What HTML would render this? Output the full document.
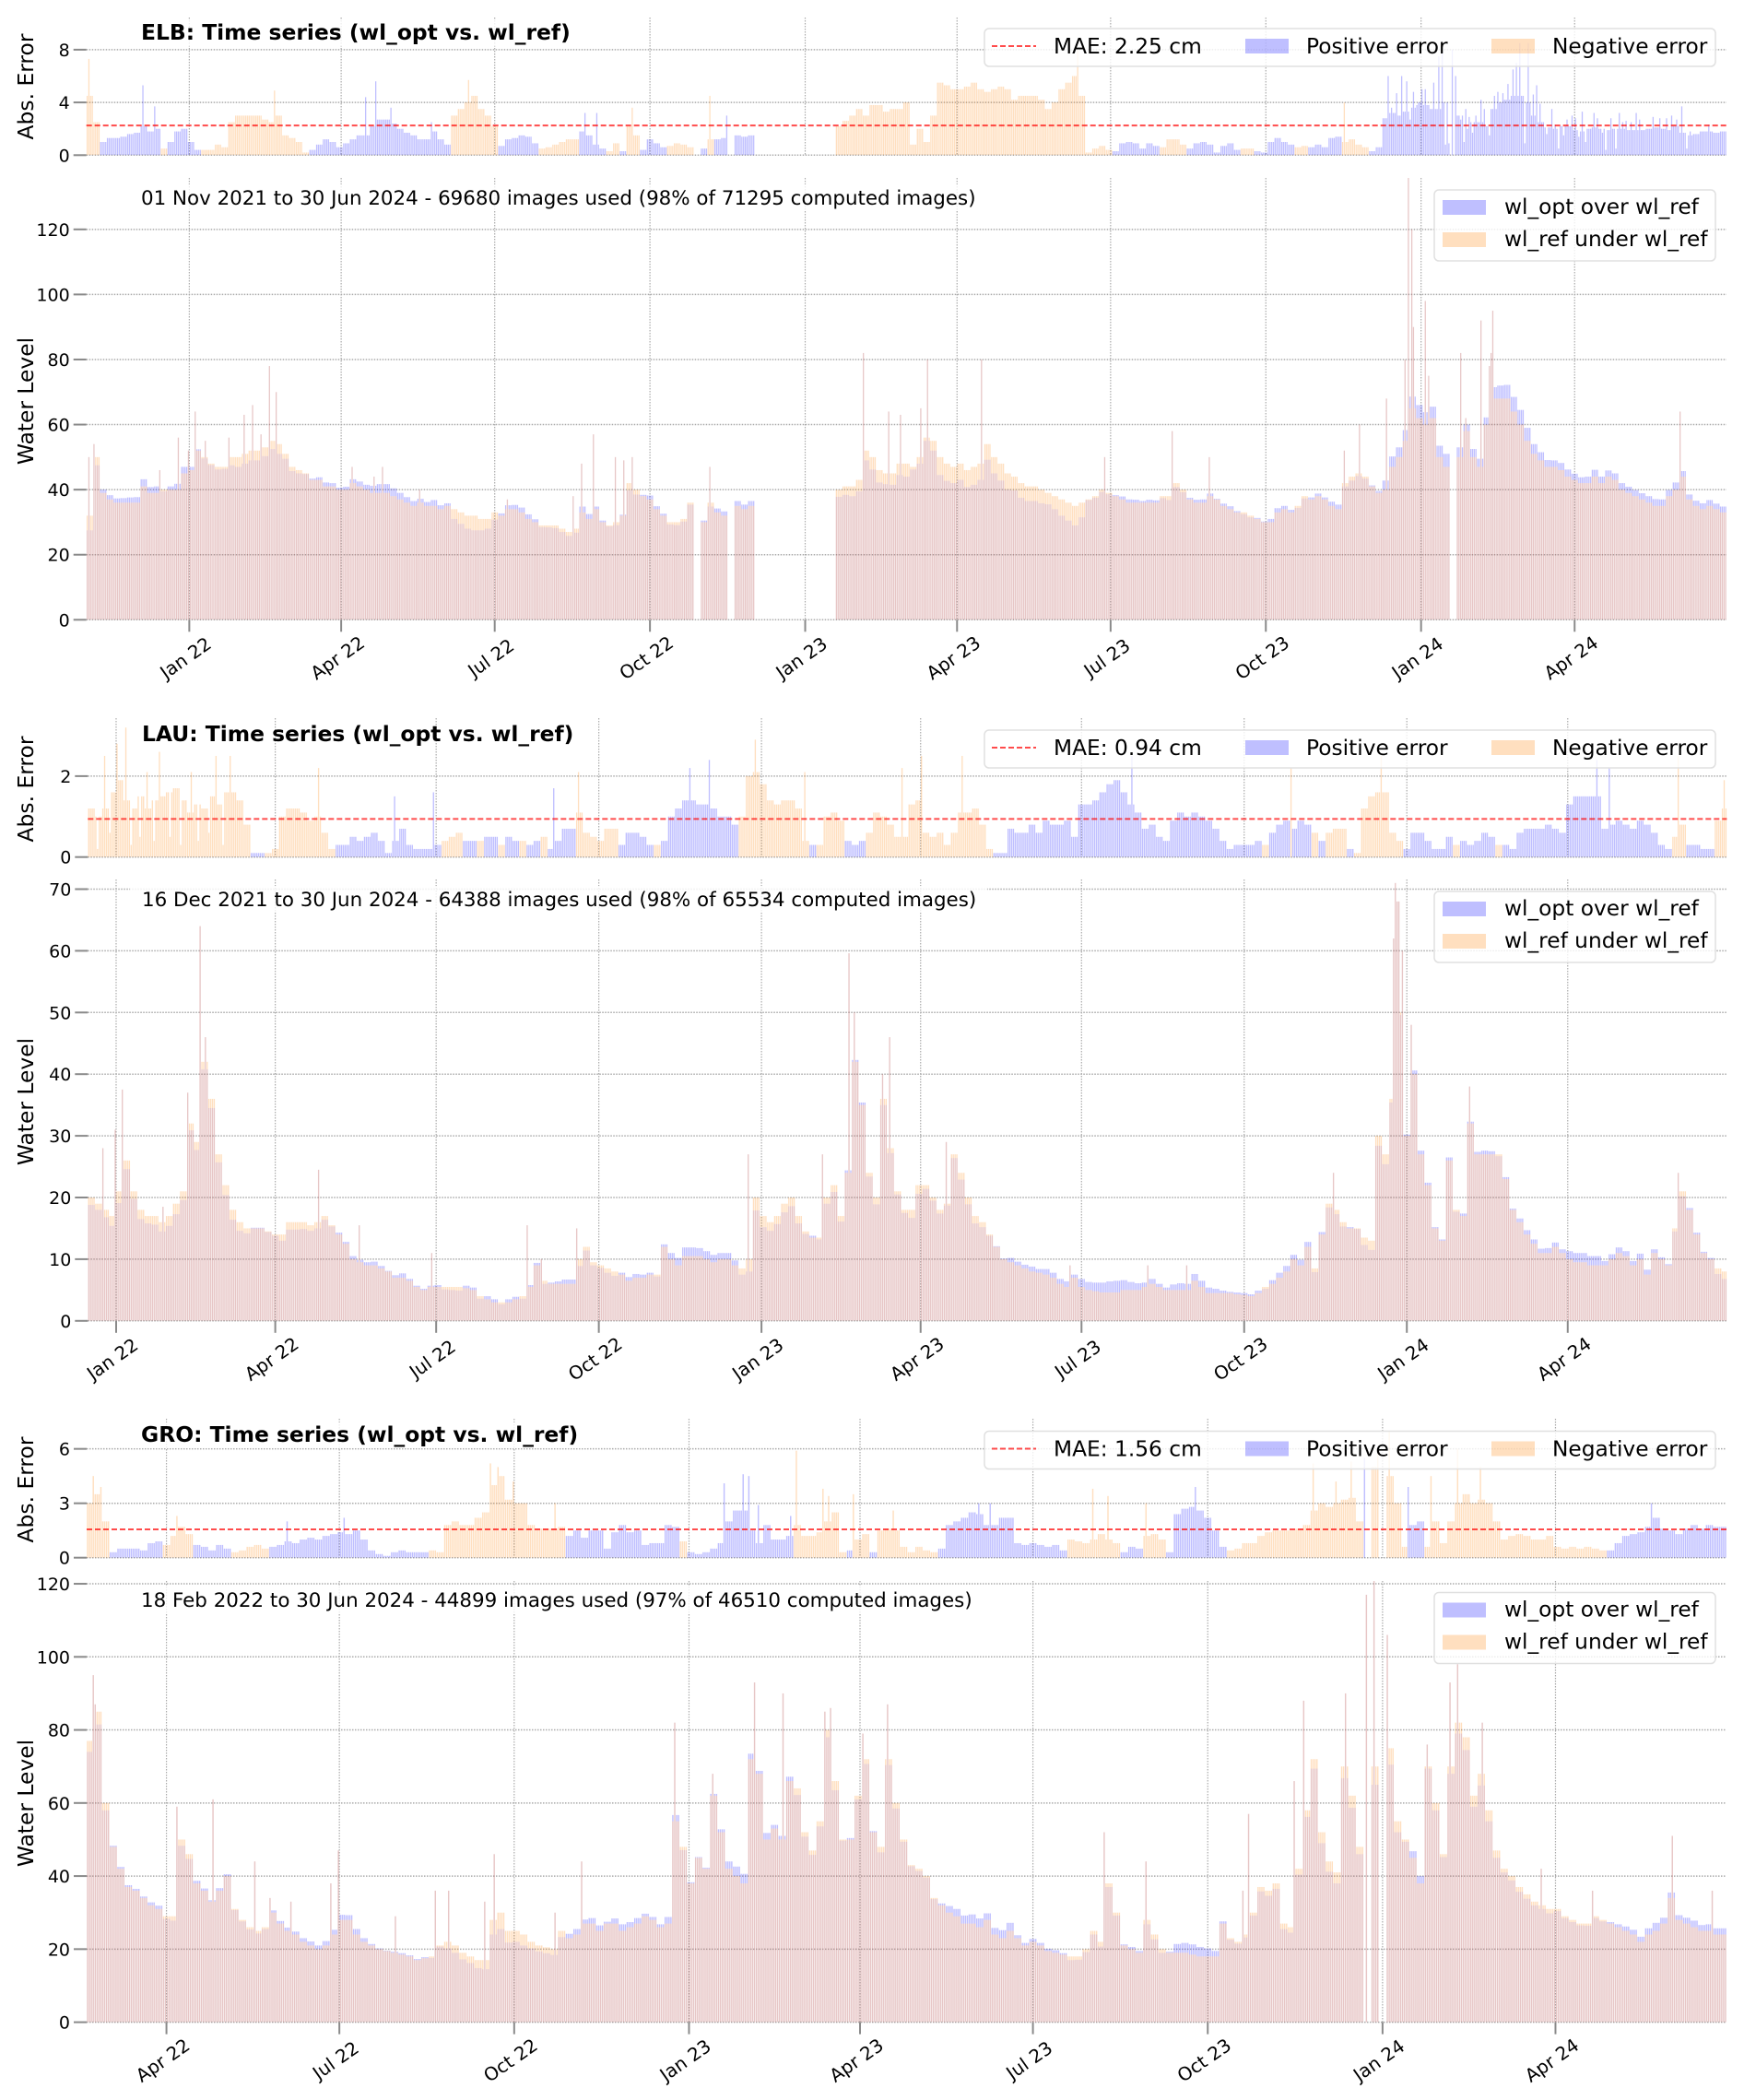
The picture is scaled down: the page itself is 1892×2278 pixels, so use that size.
<!DOCTYPE html>
<html lang="en">
<head>
<meta charset="utf-8">
<title>Water level time series: wl_opt vs. wl_ref</title>
<style>
html,body{margin:0;padding:0;background:#fff}
svg{display:block}
text{font-family:"DejaVu Sans","Liberation Sans",sans-serif;fill:#000}
.title{font-size:23.4px;font-weight:bold}
.subtitle{font-size:21.4px}
.legend-text{font-size:23.3px}
.axis-title{font-size:23.4px}
.frame{fill:#fff;fill-opacity:.8;stroke:#e0e0e0;stroke-width:1.5}
.backing{fill:#fff;fill-opacity:.8}
.blue-patch{fill:#0000ff;fill-opacity:.25}
.orange-patch{fill:#ff7f00;fill-opacity:.25}
</style>
</head>
<body>
<svg xmlns="http://www.w3.org/2000/svg" width="1892" height="2278" viewBox="0 0 1892 2278">
  <g id="plots"></g>

  <!-- ELB -->
  <g>
    <rect class="backing" x="141" y="22" width="488" height="28"/>
    <text class="title" x="153" y="43">ELB: Time series (wl_opt vs. wl_ref)</text>
    <rect class="backing" x="141" y="200" width="930" height="29"/>
    <text class="subtitle" x="153" y="222">01 Nov 2021 to 30 Jun 2024 - 69680 images used (98% of 71295 computed images)</text>
    <text class="axis-title" transform="translate(36,94) rotate(-90)" text-anchor="middle">Abs. Error</text>
    <text class="axis-title" transform="translate(36,435) rotate(-90)" text-anchor="middle">Water Level</text>
    <g>
      <rect class="frame" x="1068" y="31" width="793" height="41" rx="5"/>
      <line x1="1076" x2="1124" y1="50" y2="50" stroke="#ff0000" stroke-opacity=".7" stroke-width="2" stroke-dasharray="6 3"/>
      <text class="legend-text" x="1143" y="58">MAE: 2.25 cm</text>
      <rect class="blue-patch" x="1351" y="42" width="47" height="16"/>
      <text class="legend-text" x="1417" y="58">Positive error</text>
      <rect class="orange-patch" x="1618" y="42" width="47" height="16"/>
      <text class="legend-text" x="1684" y="58">Negative error</text>
    </g>
    <g>
      <rect class="frame" x="1556" y="206" width="305" height="77" rx="5"/>
      <rect class="blue-patch" x="1565" y="217" width="47" height="16"/>
      <text class="legend-text" x="1632" y="232">wl_opt over wl_ref</text>
      <rect class="orange-patch" x="1565" y="252" width="47" height="16"/>
      <text class="legend-text" x="1632" y="267">wl_ref under wl_ref</text>
    </g>
  </g>

  <!-- LAU -->
  <g>
    <text class="title" x="154" y="804">LAU: Time series (wl_opt vs. wl_ref)</text>
    <rect class="backing" x="141" y="961" width="930" height="29"/>
    <text class="subtitle" x="154" y="983">16 Dec 2021 to 30 Jun 2024 - 64388 images used (98% of 65534 computed images)</text>
    <text class="axis-title" transform="translate(36,856) rotate(-90)" text-anchor="middle">Abs. Error</text>
    <text class="axis-title" transform="translate(36,1195) rotate(-90)" text-anchor="middle">Water Level</text>
    <g transform="translate(0,761)">
      <rect class="frame" x="1068" y="31" width="793" height="41" rx="5"/>
      <line x1="1076" x2="1124" y1="50" y2="50" stroke="#ff0000" stroke-opacity=".7" stroke-width="2" stroke-dasharray="6 3"/>
      <text class="legend-text" x="1143" y="58">MAE: 0.94 cm</text>
      <rect class="blue-patch" x="1351" y="42" width="47" height="16"/>
      <text class="legend-text" x="1417" y="58">Positive error</text>
      <rect class="orange-patch" x="1618" y="42" width="47" height="16"/>
      <text class="legend-text" x="1684" y="58">Negative error</text>
    </g>
    <g transform="translate(0,761)">
      <rect class="frame" x="1556" y="206" width="305" height="77" rx="5"/>
      <rect class="blue-patch" x="1565" y="217" width="47" height="16"/>
      <text class="legend-text" x="1632" y="232">wl_opt over wl_ref</text>
      <rect class="orange-patch" x="1565" y="252" width="47" height="16"/>
      <text class="legend-text" x="1632" y="267">wl_ref under wl_ref</text>
    </g>
  </g>

  <!-- GRO -->
  <g>
    <rect class="backing" x="141" y="1543" width="497" height="28"/>
    <text class="title" x="153" y="1564">GRO: Time series (wl_opt vs. wl_ref)</text>
    <rect class="backing" x="141" y="1721" width="926" height="29"/>
    <text class="subtitle" x="153" y="1743">18 Feb 2022 to 30 Jun 2024 - 44899 images used (97% of 46510 computed images)</text>
    <text class="axis-title" transform="translate(36,1616) rotate(-90)" text-anchor="middle">Abs. Error</text>
    <text class="axis-title" transform="translate(36,1956) rotate(-90)" text-anchor="middle">Water Level</text>
    <g transform="translate(0,1521.5)">
      <rect class="frame" x="1068" y="31" width="793" height="41" rx="5"/>
      <line x1="1076" x2="1124" y1="50" y2="50" stroke="#ff0000" stroke-opacity=".7" stroke-width="2" stroke-dasharray="6 3"/>
      <text class="legend-text" x="1143" y="58">MAE: 1.56 cm</text>
      <rect class="blue-patch" x="1351" y="42" width="47" height="16"/>
      <text class="legend-text" x="1417" y="58">Positive error</text>
      <rect class="orange-patch" x="1618" y="42" width="47" height="16"/>
      <text class="legend-text" x="1684" y="58">Negative error</text>
    </g>
    <g transform="translate(0,1521.5)">
      <rect class="frame" x="1556" y="206" width="305" height="77" rx="5"/>
      <rect class="blue-patch" x="1565" y="217" width="47" height="16"/>
      <text class="legend-text" x="1632" y="232">wl_opt over wl_ref</text>
      <rect class="orange-patch" x="1565" y="252" width="47" height="16"/>
      <text class="legend-text" x="1632" y="267">wl_ref under wl_ref</text>
    </g>
  </g>
</svg>

<script>
// ---- shared axis data ----
const binDays = 4;
const tickDates = ['2022-01-01','2022-04-01','2022-07-01','2022-10-01','2023-01-01','2023-04-01','2023-07-01','2023-10-01','2024-01-01','2024-04-01'];
const tickLabels = ['Jan 22','Apr 22','Jul 22','Oct 22','Jan 23','Apr 23','Jul 23','Oct 23','Jan 24','Apr 24'];
const groTickDates = ['2022-04-01','2022-07-01','2022-10-01','2023-01-01','2023-04-01','2023-07-01','2023-10-01','2024-01-01','2024-04-01'];
const groTickLabels = ['Apr 22','Jul 22','Oct 22','Jan 23','Apr 23','Jul 23','Oct 23','Jan 24','Apr 24'];

// ---- ELB: readings per 4-day bin ----
const elbLevelTicks = [0,20,40,60,80,100,120];
const elbErrorTicks = [0,4,8];
const elbMae = 2.25;
const elbRef = [
32,50,39,37,36,36,36,36,41,39,
39,40,40,40,45,46,52,50,48,47,
47,50,50,51,52,52,53,55,54,51,
47,46,45,43,43,41,41,40,40,42,
41,40,39,39,39,38,37,36,35,36,
35,35,34,35,34,33,32,32,31,31,
33,32,34,34,33,31,30,29,29,29,
28,27,28,33,31,34,30,29,30,32,
42,40,38,37,34,32,30,30,31,36,
null,30,36,33,32,null,35,34,35,null,
null,null,null,null,null,null,null,null,null,null,
null,40,41,41,43,52,50,46,45,45,
48,48,47,50,56,55,50,48,47,48,
46,47,48,54,50,48,45,44,42,41,
41,40,39,38,37,36,35,36,37,38,
40,39,38,37,36,36,36,36,36,38,
38,42,40,37,36,36,38,37,35,34,
33,33,32,31,30,30,33,34,33,35,
38,37,38,37,35,34,42,44,45,44,
41,39,40,47,50,55,65,62,60,62,
50,47,null,50,58,50,47,60,68,68,
68,64,60,55,51,49,47,47,46,44,
43,42,42,44,42,44,43,40,39,38,
37,36,35,35,38,40,44,37,35,34,
35,34,33];
const elbErr = [
-4.5,-2.5,1,1.3,1.3,1.4,1.6,1.7,2.2,1.8,
2,-.5,1,1.8,2,1,.4,-.4,-.4,-.8,
-.6,-2.5,-3,-3,-3,-3,-2.7,-2.5,-3,-1.5,
-1.3,-1,-.2,.4,.8,1.2,1,.6,.9,1.2,
1.5,1.5,2.2,2.7,2.7,2.4,2,1.7,1.5,1.2,
1.2,1.8,1.2,.8,-3,-3.5,-4,-4.5,-3.5,-3,
-2.2,.7,1.2,1.3,1.5,1.4,.9,-.5,-.6,-.8,
-1,-1.2,-1.2,1.8,1.5,.8,.5,-.3,-.9,.3,
-2.2,-1.5,.4,1.2,.9,.6,-.7,-.9,-.8,-.6,
null,.5,-1.2,1.2,1.3,null,1.5,1.4,1.5,null,
null,null,null,null,null,null,null,null,null,null,
null,-2.2,-2.6,-3,-3.5,-3,-3.8,-3.8,-3.3,-3.5,
-3.5,-4,-.8,-2,-1,-3,-5.5,-5.3,-5,-5,
-5.2,-5.5,-5,-4.8,-5,-5.2,-5,-4.2,-4.5,-4.5,
-4.5,-4.2,-3.5,-4,-5,-5.5,-6,-4.5,-.2,-.5,
-.7,-.4,.3,.9,1,.9,.5,.9,.7,-.6,
-1.2,-1.2,-.8,.5,.9,1,.8,.2,.7,.9,
.4,-.5,-.5,.3,.2,1,1.3,1,.8,-.6,
-.7,.6,.8,.6,1.3,1.4,-1,-1.2,-.8,-.6,
.3,.6,2.8,3.2,3,3.3,3.6,4,3.8,3.5,
3.5,4,null,3,2,2.5,2.5,2.2,3.5,4,
4.2,4.5,4.5,4,3,2.5,2.1,2,2.2,2.2,
1.9,1.8,2,2.1,2,1.9,2,2,1.9,1.9,
1.9,2,2.1,2,1.9,2.2,1.7,1.5,1.6,1.8,
1.8,1.7,1.8];
const elbPeakDays = [1,4,43,54,60,64,70,84,93,98,103,108,112,157,170,175,197,249,288,293,300,313,318,323,369,460,475,482,494,498,530,603,643,665,745,754,770,781,783,785,786,793,795,814,817,826,831,832,833,944];
const elbPeakLevels = [50,54,46,56,52,64,55,56,63,66,57,78,70,47,44,47,40,37,38,48,57,50,49,50,47,82,64,63,65,80,80,50,58,50,52,60,68,80,136,120,90,98,75,82,62,92,78,82,95,64];
const elbErrPeakDays = [1,33,40,111,165,171,180,204,226,295,302,323,369,379,587,745,771,773,776,779,782,784,786,788,791,793,795,798,801,803,805,807,809,811,814,816,817,819,821,823,826,828,831,834,836,839,842,845,847,849,852,854,857,859,861,865,868,870,872,875,877,880,882,884,886,888,893,895,898,900,903,906,908,910,912,915,918,920,928,932,936,939,942,945,948,950,961];
const elbErrPeakValues = [-7.3,5.3,3.7,-4.9,4.4,5.6,3.6,2.5,-5.7,3.2,3.2,-3.6,-4.5,3,-8,-4,6,3.6,4.7,6,5.6,2.7,4.8,3.8,5,5,3.8,5.5,7.5,8.5,.8,.9,8,6,2.7,1,3.5,2.9,1.7,3,4.2,3.5,1.5,4.5,4.8,4.7,5.4,6.5,7,8.5,.9,8.5,4.6,5.3,3.9,1.6,3.5,2.3,.5,1.5,2.7,3,2.8,1.4,3.3,1,3.2,2.8,1.7,.4,2.8,.5,3.2,2.5,2.6,2.5,3.2,2.7,2.9,2.8,2.8,3,2.7,3.7,.5,1.8,2.3];

// ---- LAU: readings per 4-day bin ----
const lauLevelTicks = [0,10,20,30,40,50,60,70];
const lauErrorTicks = [0,2];
const lauMae = 0.94;
const lauRef = [
20,19,18,17,21,26,21,18,17,17,
16,17,19,21,32,29,42,36,27,22,
18,16,15,15,15,14.5,14,14,16,16,
16,15.5,16,17,15.5,14,12.5,10,9.5,9,
9,8.5,8,7,7,6.5,5.5,5,5.5,5.5,
5.5,5.5,5.5,5.3,5,4,3.5,3,3,3,
3.5,4,5.5,9,6.5,6,6,6,6,10,
12,9.5,9,8.5,8,7.5,6.5,7,7,7.5,
7.5,12,10,9,10.5,10.5,10.5,10,9.5,10,
10,9,8.5,10,20,17,16,17,19,20,
17,14.5,13.5,13.5,20,22,17,24,42,35,
24,20,36,28,21,18,18,22,22,20,
18,19,27,24,20,17,16,14,12,10,
9.5,9,8.5,8,7.8,7.5,7,6,5.5,7,
5.5,5,4.8,4.6,4.6,4.6,5,5,5,5.5,
6,5.5,5,5,5,5,6.5,5.5,4.5,4.5,
4.5,4.5,4.3,4.2,4,4.5,5.5,6,7,8,
10,9,12,8.5,14,19,18,16,15,15,
13.5,13,30,27,36,50,30,40,27,22,
15,13,26,18,17,32,27,27,27,27,
23,18,16,14,12.5,11,11,12,11,10,
9.5,9.5,9,9,9,10,11,10.5,9,10,
7.5,11,10,9,15,21,18,14,11,10,
8.5,8];
const lauErr = [
-1.2,-1,-1.2,-1.6,-1.9,-1.4,-1.2,-1.5,-1.2,-1.4,
-1.5,-1.6,-1.7,-1.4,-1.1,-1.3,-1.2,-1.5,-1.3,-1.6,
-1.6,-1.4,-.8,.1,.1,-.1,-.2,-1,-1.2,-1.2,
-1.1,-.9,-1,-.6,-.2,.3,.3,.5,.4,.5,
.6,.4,.1,.4,.7,.3,.2,.2,.2,.3,
-.4,-.5,-.6,.4,.4,-.4,.5,.5,-.3,.5,
.4,-.4,.3,.4,-.5,.2,.4,.7,.7,-1.1,
-.6,-.5,-.4,-.7,-.7,.3,.6,.6,.5,.3,
-.3,.4,1,1.2,1.4,1.4,1.3,1.3,1.2,1,
1,.8,-1,-2,-2.1,-1.8,-1.4,-1.3,-1.4,-1.4,
-1.2,-.4,.3,-.3,-1,-1.1,-.9,.4,.3,.4,
-.6,-1.1,-1,-.8,-.5,-.5,-1.3,-1.4,-.6,-.5,
-.6,-.3,-.6,-1.1,-1.1,-1.2,-.8,-.2,.1,.1,
.7,.6,.6,.8,.6,.9,.8,.8,.9,.5,
1.3,1.3,1.4,1.6,1.8,1.9,1.6,1.3,1.1,.7,
.8,.5,.4,.9,1.1,1,1.1,1,.9,.7,
.4,.2,.3,.3,.3,.4,-.3,.6,.8,.9,
.7,.9,.8,-.6,.4,-.6,-.7,-.7,.2,-.1,
-1.2,-1.5,-1.6,-1.6,-.6,-.4,.2,.6,.6,.4,
.2,.2,.5,-.3,.4,.3,.4,.6,.5,-.3,
.3,.2,.6,.7,.7,.7,.8,.7,.6,1.3,
1.5,1.5,1.5,1.5,.7,.8,.9,.8,.7,.9,
.8,.6,.3,.2,-.5,-.8,.3,.3,.2,.2,
-.9,-1.2];
const lauPeakDays = [8,15,19,42,56,63,66,130,153,194,248,256,276,373,415,430,433,449,453,485,555,599,621,704,738,739,740,741,743,748,781,899];
const lauPeakLevels = [28,31,37.5,18.5,37,64,46,24.5,15.5,11,15.5,10,15,27,27,59.6,50,40,46,29,9,9,9,24,62,71,68,68,60,48,38,24];
const lauErrPeakDays = [5,9,12,16,21,24,29,33,37,40,46,52,58,62,68,72,76,80,130,173,195,263,277,340,351,377,405,460,471,494,590,680,731,853,860,899,925];
const lauErrPeakValues = [-.2,-2.5,-.6,-2.8,-3.2,-.3,-.5,-2.1,-.4,-2.6,-.5,-.3,-2.1,-.4,-.6,-2.5,-.3,-2.5,-2.2,1.5,1.6,1.7,-2.1,2.2,2.4,-2.9,-2.1,-2.2,-2.5,-2.5,2.5,-2.2,-2.5,2.4,2.2,-2.5,-1.9];

// ---- GRO: readings per 4-day bin ----
const groLevelTicks = [0,20,40,60,80,100,120];
const groErrorTicks = [0,3,6];
const groMae = 1.56;
const groRef = [
77,85,60,48,42,37,36,34,32,31,
29,29,50,46,38,36,33,36,40,31,
28,26,25,26,30,27,25,24,22,21,
20,21,24,28,28,24,22,21,20,19.5,
19,18.5,18,17,17.5,18,21,22,21,19,
18,17,17,28,30,25,25,24,22,21,
20.5,20,25,23,24,27,27,25,27,27,
25,26,27,29,28,26,27,55,48,38,
45,42,62,52,42,40,38,72,68,50,
53,50,66,64,52,47,55,80,66,50,
50,62,72,52,48,72,60,50,43,42,
40,34,32,30,29,27,27,26,28,24,
23,25,23,21,22,21,19.5,19,18.5,18,
18,20,25,22,38,30,21,20,19,28,
24,20,19,19,19,18.5,18,18,18,27,
23,22,24,30,37,36,38,27,26,42,
58,72,52,44,41,70,62,48,null,70,
null,75,55,50,45,38,70,60,46,70,
82,78,62,68,58,47,42,40,37,35,
33,32,31,31,29,28,27,27,29,28,
27,26,25,24,22,24,25,27,34,28,
27,26,25,25,24,24];
const groErr = [
-3,-3.5,-2,.3,.5,.5,.5,.4,.8,.9,
-.7,-1.2,-1.7,-1.3,.7,.6,.4,.7,.5,-.3,
-.4,-.6,-.7,-.5,.6,.7,.9,.8,1,1.1,
1,1.2,1.3,1.4,1.3,1.5,1,.4,.2,.1,
.3,.4,.3,.3,.3,-.4,-.3,-1.8,-2,-1.8,
-1.8,-2.2,-2.5,-4,-4.5,-3.2,-3,-3,-1.8,-1.6,
-1.6,-1.6,-1.7,1.2,1.5,1.1,1.5,1.5,.5,1.4,
1.8,1.4,1.5,.7,.8,.8,1.8,1.7,-.9,.3,
.2,.3,.5,.8,2,2.6,2.6,1.5,.8,1.8,
1,1,1.2,-1.8,-1.2,-1.2,-1.4,-2,-2.5,-.3,
.4,-1,-1.3,.3,-1.5,-1.6,-1.5,-.6,-.3,-.6,
-.4,-.3,.5,1.8,2,2.2,2.5,2.4,1.8,1.8,
2.2,2.2,.8,.7,.8,.7,.6,.7,.4,-1,
-.9,-.8,-1,-1.3,-1,-.8,.3,.6,.5,-1.2,
-1.3,-1,.3,2.4,2.7,2.8,2.6,2.2,1.5,.6,
-.4,-.5,-.8,-.8,-1.2,-1.4,-1.5,-1.5,-1.5,-1.6,
-1.8,-2.6,-3,-2.8,-3,-3.2,-3.3,-2,null,-5,
null,-4.5,-3,-.6,1.8,2,-.6,-2,-.8,-2,
-3,-3.5,-3,-3.2,-3,-2,-1,-1.2,-1.3,-1.2,
-1,-1,-1.2,-.6,-.5,-.6,-.5,-.6,-.5,-.4,
.4,.8,1.2,1.3,1.4,1.7,2.2,1.6,1.5,1.3,
1.6,1.8,1.6,1.8,1.7,1.7];
const groPeakDays = [3,4,47,66,88,96,107,128,132,162,183,190,209,214,246,260,309,329,351,366,388,391,408,421,535,557,608,611,635,640,662,673,677,684,705,717,721,734,765,792,834,855];
const groPeakLevels = [95,87,59,61,44,34,33,38,47,29,36,36,33,46,30,44,82,68,93,90,85,86,79,87,52,44,36,57,66,88,90,117,121,106,76,93,98,82,42,36,51,36];
const groErrPeakDays = [3,7,47,105,135,212,216,224,246,335,345,348,353,370,373,387,390,403,424,469,475,529,537,557,583,645,657,665,672,679,685,695,707,721,733,823];
const groErrPeakValues = [-4.5,-3.9,-2.3,2,2.2,-5.2,-5,-4.2,-3,4.1,4.6,4.5,2.9,2.3,-5.9,-3.8,-3.4,-3.5,-2.6,3,3,-3.8,-3.4,-3,3.9,-5.2,-4.2,-5.3,5.5,-6,-7,3.9,-4.5,-6,-5,3];

// ---- drawing ----
const SVGNS = 'http://www.w3.org/2000/svg';
const plots = document.getElementById('plots');
const defs = document.createElementNS(SVGNS, 'defs');
plots.appendChild(defs);
const BAR_FILL = 0.7;
const GRID_COLOR = '#ababab';
const TICK_COLOR = '#8a8a8a';
const BLUE = '#0000ff';
const ORANGE = '#ff7f00';
const OVERLAP = '#be6464';

function dayNumber(iso) {
  return Date.parse(iso + 'T00:00:00Z') / 86400000;
}
function linearX(startDay, endDay, left, right) {
  return function (day) { return left + (day - startDay) * (right - left) / (endDay - startDay); };
}
function linearY(bottom, pxPerUnit) {
  return function (value) { return bottom - value * pxPerUnit; };
}
function makeClip(id, left, top, right, bottom) {
  const clip = document.createElementNS(SVGNS, 'clipPath');
  clip.setAttribute('id', id);
  const r = document.createElementNS(SVGNS, 'rect');
  r.setAttribute('x', left);
  r.setAttribute('y', top);
  r.setAttribute('width', right - left);
  r.setAttribute('height', bottom - top);
  clip.appendChild(r);
  defs.appendChild(clip);
}
function dailySeries(binned, peakDays, peakValues, days) {
  const out = [];
  for (let d = 0; d < days; d++) {
    const v = binned[Math.floor(d / binDays)];
    out.push(v === undefined ? null : v);
  }
  peakDays.forEach(function (d, i) { out[d] = peakValues[i]; });
  return out;
}
function addBar(parent, x, y0, y1, w, color, alpha, name) {
  const bar = document.createElementNS(SVGNS, 'rect');
  
  
  bar.setAttribute('x', x.toFixed(2));
  bar.setAttribute('y', y1.toFixed(2));
  bar.setAttribute('width', w.toFixed(2));
  bar.setAttribute('height', Math.max(0, y0 - y1).toFixed(2));
  bar.setAttribute('fill', color);
  bar.setAttribute('fill-opacity', alpha);
  parent.appendChild(bar);
}
function drawAxes(g, ax, tickDays, labels, yTicks, showXLabels) {
  yTicks.forEach(function (v) {
    const y = ax.y(v);
    const grid = document.createElementNS(SVGNS, 'line');
    
    
    grid.setAttribute('x1', ax.left);
    grid.setAttribute('x2', ax.right);
    grid.setAttribute('y1', y);
    grid.setAttribute('y2', y);
    grid.setAttribute('stroke', GRID_COLOR);
    grid.setAttribute('stroke-width', '1.5');
    grid.setAttribute('stroke-dasharray', '1.5 1.5');
    g.appendChild(grid);
    const tick = document.createElementNS(SVGNS, 'line');
    
    
    tick.setAttribute('x1', ax.left - 14);
    tick.setAttribute('x2', ax.left);
    tick.setAttribute('y1', y);
    tick.setAttribute('y2', y);
    tick.setAttribute('stroke', TICK_COLOR);
    tick.setAttribute('stroke-width', '2');
    g.appendChild(tick);
    const label = document.createElementNS(SVGNS, 'text');
    
    
    label.setAttribute('x', ax.left - 18);
    label.setAttribute('y', y + 7);
    label.setAttribute('text-anchor', 'end');
    label.setAttribute('font-size', '19');
    label.textContent = String(v);
    g.appendChild(label);
  });
  tickDays.forEach(function (d, i) {
    const x = ax.x(d);
    const grid = document.createElementNS(SVGNS, 'line');
    
    
    grid.setAttribute('x1', x);
    grid.setAttribute('x2', x);
    grid.setAttribute('y1', ax.top);
    grid.setAttribute('y2', ax.bottom);
    grid.setAttribute('stroke', GRID_COLOR);
    grid.setAttribute('stroke-width', '1.2');
    grid.setAttribute('stroke-dasharray', '1.5 1.5');
    g.appendChild(grid);
    if (showXLabels) {
      const tick = document.createElementNS(SVGNS, 'line');
      
      
      tick.setAttribute('x1', x);
      tick.setAttribute('x2', x);
      tick.setAttribute('y1', ax.bottom);
      tick.setAttribute('y2', ax.bottom + 13);
      tick.setAttribute('stroke', TICK_COLOR);
      tick.setAttribute('stroke-width', '2');
      g.appendChild(tick);
      const label = document.createElementNS(SVGNS, 'text');
      
      
      label.setAttribute('transform', 'translate(' + x + ',' + (ax.bottom + 47) + ') rotate(-35)');
      label.setAttribute('text-anchor', 'middle');
      label.setAttribute('font-size', '19.8');
      label.textContent = labels[i];
      g.appendChild(label);
    }
  });
}
function drawStation(id, s) {
  const start = dayNumber(s.start);
  const end = dayNumber(s.end);
  const days = end - start;
  const tickDays = s.tickDates.map(function (t) { return dayNumber(t) - start; });
  const xOf = linearX(0, days, s.left, s.right);
  const pitch = (s.right - s.left) / days;
  const barW = pitch * BAR_FILL;

  const errAxis = { left: s.left, right: s.right, top: s.errTop, bottom: s.errBottom, x: xOf, y: linearY(s.errBottom, s.errScale) };
  const lvlAxis = { left: s.left, right: s.right, top: s.lvlTop, bottom: s.lvlBottom, x: xOf, y: linearY(s.lvlBottom, s.lvlScale) };

  const g = document.createElementNS(SVGNS, 'g');
  
  
  plots.appendChild(g);

  drawAxes(g, errAxis, tickDays, s.tickLabels, s.errorTicks, false);
  drawAxes(g, lvlAxis, tickDays, s.tickLabels, s.levelTicks, true);

  makeClip(id + '-err-clip', s.left, s.errTop, s.right, s.errBottom);
  makeClip(id + '-lvl-clip', s.left, s.lvlTop, s.right, s.lvlBottom);

  const refDaily = dailySeries(s.ref, s.peakDays, s.peakLevels, days);
  const errBase = dailySeries(s.err, [], [], days);
  const errDaily = dailySeries(s.err, s.errPeakDays, s.errPeakValues, days);

  const errBars = document.createElementNS(SVGNS, 'g');
  
  
  errBars.setAttribute('clip-path', 'url(#' + id + '-err-clip)');
  g.appendChild(errBars);

  const lvlBars = document.createElementNS(SVGNS, 'g');
  
  
  lvlBars.setAttribute('clip-path', 'url(#' + id + '-lvl-clip)');
  g.appendChild(lvlBars);

  for (let d = 0; d < days; d++) {
    const x = xOf(d) + (pitch - barW) / 2;
    const e = errDaily[d];
    if (e !== null) {
      addBar(errBars, x, errAxis.y(0), errAxis.y(Math.abs(e)), barW, e >= 0 ? BLUE : ORANGE, '0.25', e >= 0 ? 'positive-error-bar' : 'negative-error-bar');
    }
    const r = refDaily[d];
    if (r !== null) {
      // wl_opt is wl_ref plus the signed error plotted in the panel above
      const isPeak = s.peakDays.indexOf(d) >= 0;
      const opt = isPeak ? r : r + (errBase[d] === null ? 0 : errBase[d]);
      const low = Math.min(opt, r);
      addBar(lvlBars, x, lvlAxis.y(0), lvlAxis.y(low), barW, OVERLAP, '0.37', 'wl-overlap-bar');
      if (opt > r) {
        addBar(lvlBars, x, lvlAxis.y(low), lvlAxis.y(opt), barW, BLUE, '0.25', 'wl-opt-bar');
      } else if (r > opt) {
        addBar(lvlBars, x, lvlAxis.y(low), lvlAxis.y(r), barW, ORANGE, '0.25', 'wl-ref-bar');
      }
    }
  }

  const mae = document.createElementNS(SVGNS, 'line');
  
  
  mae.setAttribute('x1', s.left);
  mae.setAttribute('x2', s.right);
  mae.setAttribute('y1', errAxis.y(s.mae));
  mae.setAttribute('y2', errAxis.y(s.mae));
  mae.setAttribute('stroke', '#ff0000');
  mae.setAttribute('stroke-opacity', '0.7');
  mae.setAttribute('stroke-width', '2');
  mae.setAttribute('stroke-dasharray', '6 3');
  g.appendChild(mae);
}

drawStation('elb', {
  start: '2021-11-01', end: '2024-06-30', left: 93.7, right: 1873,
  errTop: 19, errBottom: 168.3, errScale: 14.3,
  lvlTop: 193, lvlBottom: 672.3, lvlScale: 3.529,
  tickDates: tickDates, tickLabels: tickLabels,
  levelTicks: elbLevelTicks, errorTicks: elbErrorTicks, mae: elbMae,
  ref: elbRef, err: elbErr,
  peakDays: elbPeakDays, peakLevels: elbPeakLevels,
  errPeakDays: elbErrPeakDays, errPeakValues: elbErrPeakValues
});
drawStation('lau', {
  start: '2021-12-16', end: '2024-06-30', left: 95.3, right: 1873.4,
  errTop: 779, errBottom: 929.7, errScale: 43.9,
  lvlTop: 954, lvlBottom: 1432.8, lvlScale: 6.69,
  tickDates: tickDates, tickLabels: tickLabels,
  levelTicks: lauLevelTicks, errorTicks: lauErrorTicks, mae: lauMae,
  ref: lauRef, err: lauErr,
  peakDays: lauPeakDays, peakLevels: lauPeakLevels,
  errPeakDays: lauErrPeakDays, errPeakValues: lauErrPeakValues
});
drawStation('gro', {
  start: '2022-02-18', end: '2024-06-30', left: 94, right: 1873,
  errTop: 1539, errBottom: 1689.7, errScale: 19.67,
  lvlTop: 1715, lvlBottom: 2193.6, lvlScale: 3.963,
  tickDates: groTickDates, tickLabels: groTickLabels,
  levelTicks: groLevelTicks, errorTicks: groErrorTicks, mae: groMae,
  ref: groRef, err: groErr,
  peakDays: groPeakDays, peakLevels: groPeakLevels,
  errPeakDays: groErrPeakDays, errPeakValues: groErrPeakValues
});
</script>
</body>
</html>
